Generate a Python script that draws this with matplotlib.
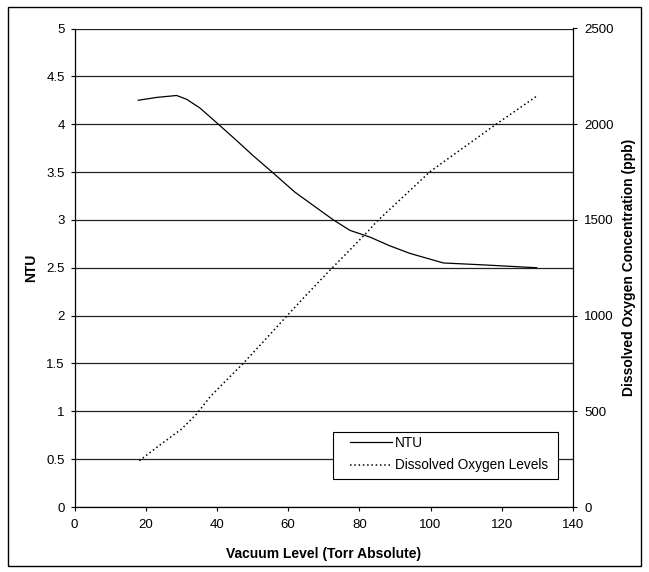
import matplotlib
matplotlib.use("Agg")
import matplotlib.pyplot as plt
from matplotlib.patches import Rectangle

plt.rcParams['font.family'] = ['Liberation Sans', 'DejaVu Sans']

vacuum_ntu = [17.9, 23.1, 28.7, 31.5, 35.2, 40.4, 45.5, 50.2, 55.8, 61.9, 67.1, 72.7,
              77.4, 83.0, 88.5, 94.2, 103.6, 114.8, 129.8]
ntu = [4.25, 4.28, 4.30, 4.26, 4.17, 4.00, 3.83, 3.67, 3.49, 3.29, 3.15, 3.00,
       2.89, 2.82, 2.73, 2.65, 2.55, 2.53, 2.50]

vacuum_do = [18.2, 24.0, 30.1, 34.3, 38.1, 42.7, 47.4, 52.6, 58.6, 63.8, 71.3, 75.5,
             82.5, 84.8, 99.9, 118.5, 130.0]
dissolved_oxygen = [242, 324, 408, 486, 576, 663, 751, 855, 977, 1082, 1229, 1308,
                    1442, 1490, 1753, 2001, 2149]

x_ticks = [0, 20, 40, 60, 80, 100, 120, 140]
ntu_ticks = [0, 0.5, 1, 1.5, 2, 2.5, 3, 3.5, 4, 4.5, 5]
ntu_tick_labels = ['0', '0.5', '1', '1.5', '2', '2.5', '3', '3.5', '4', '4.5', '5']
do_ticks = [0, 500, 1000, 1500, 2000, 2500]

fig = plt.figure(figsize=(6.49, 5.72), dpi=100)
W, H = 649, 572
ax = fig.add_axes([74.5 / W, 1 - 507 / H, (573 - 74.5) / W, (507 - 28.5) / H])
ax2 = ax.twinx()

ax.set_xlim(0, 140)
ax.set_ylim(0, 5)
ax2.set_ylim(0, 2500)

for y in ntu_ticks:
    ax.axhline(y, color='#222222', lw=0.9, zorder=0)

l1, = ax.plot(vacuum_ntu, ntu, color='black', lw=0.9, label='NTU')
l2, = ax2.plot(vacuum_do, dissolved_oxygen, color='black', lw=1.1, ls=(0, (1, 1.8)),
               label='Dissolved Oxygen Levels')

ax.set_xticks(x_ticks)
ax.set_yticks(ntu_ticks)
ax.set_yticklabels(ntu_tick_labels)
ax2.set_yticks(do_ticks)

ax.tick_params(axis='x', direction='out', length=3, width=0.8, labelsize=9.5, pad=6)
ax.tick_params(axis='y', direction='out', length=3, width=0.8, labelsize=9.5, pad=4)
ax2.tick_params(axis='y', direction='out', length=3, width=0.8, labelsize=9.5, pad=5)
for a in (ax, ax2):
    a.spines['top'].set_visible(False)
ax2.spines['left'].set_visible(False)
ax2.spines['bottom'].set_visible(False)
for s in ('left', 'bottom'):
    ax.spines[s].set_linewidth(0.9)
ax.spines['right'].set_visible(False)
ax2.spines['right'].set_linewidth(0.9)

ax.set_xlabel('Vacuum Level (Torr Absolute)', fontsize=10, fontweight='bold', labelpad=11)
ax.set_ylabel('NTU', fontsize=10, fontweight='bold', labelpad=6)
ax2.set_ylabel('Dissolved Oxygen Concentration (ppb)', fontsize=10, fontweight='bold', labelpad=6)

# legend frame drawn separately to match the reference box
ax2.add_patch(Rectangle((0.5186, 0.0585), 0.970 - 0.5186, 0.1567 - 0.0585,
                        transform=ax2.transAxes, facecolor='white', edgecolor='black',
                        lw=0.8, zorder=4))
leg = ax2.legend(handles=[l1, l2], loc='center left',
                 bbox_to_anchor=(0.5527, 0.1103),
                 fontsize=9.8, frameon=False, borderaxespad=0, borderpad=0,
                 handlelength=3.1, handletextpad=0.2, labelspacing=0.6)
leg.set_zorder(5)

fig.patches.append(Rectangle((7.5 / W, 1 - 566 / H), (641 - 7.5) / W, (566 - 6.5) / H,
                             transform=fig.transFigure, fill=False, edgecolor='black', lw=1.0))

fig.savefig('out.png', dpi=100)
